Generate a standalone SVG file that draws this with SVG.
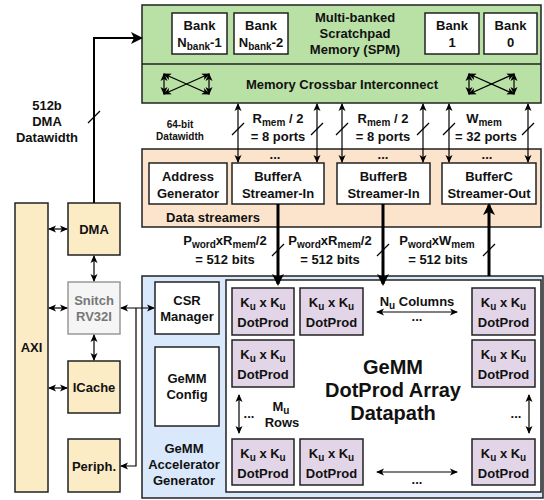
<svg xmlns="http://www.w3.org/2000/svg" width="544" height="500" viewBox="0 0 544 500">
<style>
text{font-family:"Liberation Sans",Arial,sans-serif;font-weight:bold;fill:#111;text-anchor:middle}
.t12{font-size:13px}
.t13{font-size:13px}
.box{stroke:#222;stroke-width:1.5}
.w{fill:#fff}
.cell{fill:#e1d5e7}
.ln{stroke:#000;stroke-width:1.2;fill:none}
.thk{stroke:#000;stroke-width:3;fill:none}
.sl{stroke:#000;stroke-width:1.2}
</style>
<defs>
<marker id="ah" markerWidth="8" markerHeight="8" refX="7" refY="4" orient="auto-start-reverse" markerUnits="userSpaceOnUse">
<path d="M0,0.5 L8,4 L0,7.5 L2,4 z" fill="#000"/>
</marker>
<marker id="ahb" markerWidth="12" markerHeight="12" refX="10" refY="6" orient="auto-start-reverse" markerUnits="userSpaceOnUse">
<path d="M0,0 L12,6 L0,12 L3,6 z" fill="#000"/>
</marker>
</defs>

<g id="spm">
<rect class="box" x="142" y="5" width="399" height="98" fill="#b9e0a5"/>
<line class="box" x1="142" y1="64" x2="541" y2="64"/>
<text class="t12" x="355" y="22">Multi-banked</text>
<text class="t12" x="355" y="38">Scratchpad</text>
<text class="t12" x="355" y="54">Memory (SPM)</text>
</g>
<g id="bank-n1"><rect class="box w" x="172" y="13" width="55" height="41"/><text class="t12" x="199.5" y="30">Bank</text><text class="t12" x="199.5" y="47">N<tspan font-size="10" dy="3">bank</tspan><tspan dy="-3">-1</tspan></text></g>
<g id="bank-n2"><rect class="box w" x="234" y="13" width="54" height="41"/><text class="t12" x="261" y="30">Bank</text><text class="t12" x="261" y="47">N<tspan font-size="10" dy="3">bank</tspan><tspan dy="-3">-2</tspan></text></g>
<g id="bank-1"><rect class="box w" x="425" y="13" width="54" height="41"/><text class="t12" x="452" y="30">Bank</text><text class="t12" x="452" y="47">1</text></g>
<g id="bank-0"><rect class="box w" x="484" y="13" width="53" height="41"/><text class="t12" x="510.5" y="30">Bank</text><text class="t12" x="510.5" y="47">0</text></g>
<g id="crossbar">
<text class="t12" x="342" y="89">Memory Crossbar Interconnect</text>
<g class="ln" marker-start="url(#ah)" marker-end="url(#ah)">
<line x1="164" y1="74" x2="164" y2="94"/><line x1="209" y1="74" x2="209" y2="94"/>
<line x1="164" y1="74" x2="209" y2="94"/><line x1="209" y1="74" x2="164" y2="94"/>
<line x1="469" y1="74" x2="469" y2="94"/><line x1="514" y1="74" x2="514" y2="94"/>
<line x1="469" y1="74" x2="514" y2="94"/><line x1="514" y1="74" x2="469" y2="94"/>
</g>
</g>

<g id="streamers">
<rect class="box" x="142" y="149" width="399" height="78" fill="#fce4cc"/>
<text class="t12" x="213" y="222">Data streamers</text>
<text class="t12" x="275" y="159">...</text>
<text class="t12" x="383" y="159">...</text>
<text class="t12" x="487" y="159">...</text>
</g>
<g id="addrgen"><rect class="box w" x="149" y="163" width="78" height="41"/><text class="t13" x="188" y="181">Address</text><text class="t13" x="188" y="198">Generator</text></g>
<g id="bufferA"><rect class="box w" x="232" y="163" width="92" height="41"/><text class="t13" x="278" y="181">BufferA</text><text class="t13" x="278" y="198">Streamer-In</text></g>
<g id="bufferB"><rect class="box w" x="337" y="163" width="93" height="41"/><text class="t13" x="383.5" y="181">BufferB</text><text class="t13" x="383.5" y="198">Streamer-In</text></g>
<g id="bufferC"><rect class="box w" x="442" y="163" width="94" height="41"/><text class="t13" x="489" y="181">BufferC</text><text class="t13" x="489" y="198">Streamer-Out</text></g>

<g id="axi"><rect class="box" x="15" y="203" width="33" height="289" fill="#fbecc6"/><text class="t13" x="31.5" y="352">AXI</text></g>
<g id="dma"><rect class="box" x="68" y="203" width="52" height="52" fill="#fbecc6"/><text class="t13" x="94" y="234">DMA</text></g>
<g id="snitch"><rect x="68" y="282" width="52" height="52" fill="#f5f5f5" stroke="#999" stroke-width="1.5"/><text class="t13" x="94" y="305" style="fill:#777">Snitch</text><text class="t13" x="94" y="321" style="fill:#777">RV32I</text></g>
<g id="icache"><rect class="box" x="68" y="361" width="52" height="52" fill="#fbecc6"/><text class="t13" x="94" y="392">ICache</text></g>
<g id="periph"><rect class="box" x="68" y="439" width="52" height="53" fill="#fbecc6"/><text class="t13" x="94" y="471">Periph.</text></g>

<g id="gemm">
<rect class="box" x="142" y="276" width="401" height="222" fill="#dae8fc"/>
<text class="t13" x="184" y="453">GeMM</text>
<text class="t13" x="184" y="469">Accelerator</text>
<text class="t13" x="184" y="485">Generator</text>
</g>
<g id="csr"><rect class="box w" x="155" y="282" width="64" height="52"/><text class="t13" x="187" y="305">CSR</text><text class="t13" x="187" y="321">Manager</text></g>
<g id="config"><rect class="box w" x="155" y="347" width="64" height="79"/><text class="t13" x="187" y="383">GeMM</text><text class="t13" x="187" y="399">Config</text></g>
<g id="datapath">
<rect class="box w" x="226" y="280" width="315" height="212"/>
<text x="393" y="374" font-size="20">GeMM</text>
<text x="393" y="397" font-size="20">DotProd Array</text>
<text x="393" y="420" font-size="20">Datapath</text>
<text class="t12" x="417" y="306">N<tspan font-size="10" dy="3">u</tspan><tspan dy="-3"> Columns</tspan></text>
<text class="t12" x="417" y="321">...</text>
<text class="t12" x="417" y="484">...</text>
<text class="t12" x="281" y="411">M<tspan font-size="10" dy="3">u</tspan></text>
<text class="t12" x="282" y="427">Rows</text>
<text class="t12" x="249" y="418">...</text>
<text class="t12" x="516" y="418">...</text>
</g>
<g id="dp-1-1"><rect class="box cell" x="232" y="288" width="62" height="47"/><text class="t12" x="263" y="307">K<tspan font-size="10" dy="3">u</tspan><tspan dy="-3"> x K</tspan><tspan font-size="10" dy="3">u</tspan></text><text class="t12" x="263" y="327">DotProd</text></g>
<g id="dp-1-2"><rect class="box cell" x="300" y="288" width="63" height="47"/><text class="t12" x="331.5" y="307">K<tspan font-size="10" dy="3">u</tspan><tspan dy="-3"> x K</tspan><tspan font-size="10" dy="3">u</tspan></text><text class="t12" x="331.5" y="327">DotProd</text></g>
<g id="dp-1-n"><rect class="box cell" x="472" y="288" width="63" height="47"/><text class="t12" x="503.5" y="307">K<tspan font-size="10" dy="3">u</tspan><tspan dy="-3"> x K</tspan><tspan font-size="10" dy="3">u</tspan></text><text class="t12" x="503.5" y="327">DotProd</text></g>
<g id="dp-2-1"><rect class="box cell" x="232" y="340" width="62" height="47"/><text class="t12" x="263" y="359">K<tspan font-size="10" dy="3">u</tspan><tspan dy="-3"> x K</tspan><tspan font-size="10" dy="3">u</tspan></text><text class="t12" x="263" y="379">DotProd</text></g>
<g id="dp-2-n"><rect class="box cell" x="472" y="340" width="63" height="47"/><text class="t12" x="503.5" y="359">K<tspan font-size="10" dy="3">u</tspan><tspan dy="-3"> x K</tspan><tspan font-size="10" dy="3">u</tspan></text><text class="t12" x="503.5" y="379">DotProd</text></g>
<g id="dp-m-1"><rect class="box cell" x="232" y="439" width="62" height="46"/><text class="t12" x="263" y="458">K<tspan font-size="10" dy="3">u</tspan><tspan dy="-3"> x K</tspan><tspan font-size="10" dy="3">u</tspan></text><text class="t12" x="263" y="478">DotProd</text></g>
<g id="dp-m-2"><rect class="box cell" x="300" y="439" width="63" height="46"/><text class="t12" x="331.5" y="458">K<tspan font-size="10" dy="3">u</tspan><tspan dy="-3"> x K</tspan><tspan font-size="10" dy="3">u</tspan></text><text class="t12" x="331.5" y="478">DotProd</text></g>
<g id="dp-m-n"><rect class="box cell" x="472" y="439" width="63" height="46"/><text class="t12" x="503.5" y="458">K<tspan font-size="10" dy="3">u</tspan><tspan dy="-3"> x K</tspan><tspan font-size="10" dy="3">u</tspan></text><text class="t12" x="503.5" y="478">DotProd</text></g>

<g id="connectors">
<g class="ln" marker-start="url(#ah)" marker-end="url(#ah)">
<line x1="238" y1="104" x2="238" y2="162"/><line x1="317" y1="104" x2="317" y2="162"/>
<line x1="342" y1="104" x2="342" y2="162"/><line x1="423" y1="104" x2="423" y2="162"/>
<line x1="449" y1="104" x2="449" y2="162"/><line x1="528" y1="104" x2="528" y2="162"/>
<line x1="49" y1="229" x2="67" y2="229"/><line x1="49" y1="308" x2="67" y2="308"/><line x1="49" y1="388" x2="67" y2="388"/>
<line x1="94" y1="256" x2="94" y2="281"/><line x1="94" y1="335" x2="94" y2="360"/>
<line x1="121" y1="308" x2="154" y2="308"/>
<line x1="377" y1="312" x2="457" y2="312"/><line x1="377" y1="472" x2="457" y2="472"/>
<line x1="239" y1="395" x2="239" y2="433"/><line x1="529" y1="395" x2="529" y2="433"/>
</g>
<polyline class="ln" points="136,308 136,466 121,466" marker-end="url(#ah)"/>
<polyline points="94,203 94,38 141,38" fill="none" stroke="#000" stroke-width="2" marker-end="url(#ahb)"/>
<line class="sl" x1="88" y1="123" x2="100" y2="111" stroke-width="2"/>
<g class="sl">
<line x1="232" y1="135" x2="244" y2="123"/><line x1="311" y1="135" x2="323" y2="123"/>
<line x1="336" y1="135" x2="348" y2="123"/><line x1="417" y1="135" x2="429" y2="123"/>
<line x1="443" y1="135" x2="455" y2="123"/><line x1="522" y1="135" x2="534" y2="123"/>
<line x1="272" y1="256" x2="284" y2="244"/><line x1="377" y1="256" x2="389" y2="244"/><line x1="483" y1="256" x2="495" y2="244"/>
</g>
<line class="thk" x1="278" y1="204" x2="278" y2="284" marker-end="url(#ahb)"/>
<line class="thk" x1="383" y1="204" x2="383" y2="284" marker-end="url(#ahb)"/>
<line class="thk" x1="489" y1="276" x2="489" y2="205" marker-end="url(#ahb)"/>
</g>

<g id="labels">
<text class="t13" x="47" y="110">512b</text>
<text class="t13" x="47" y="126">DMA</text>
<text class="t13" x="47" y="142">Datawidth</text>
<text x="180" y="128" font-size="10">64-bit</text>
<text x="180" y="140" font-size="10">Datawidth</text>
<text class="t13" x="278" y="123">R<tspan font-size="10" dy="3">mem</tspan><tspan dy="-3"> / 2</tspan></text>
<text class="t13" x="278" y="141">= 8 ports</text>
<text class="t13" x="383" y="123">R<tspan font-size="10" dy="3">mem</tspan><tspan dy="-3"> / 2</tspan></text>
<text class="t13" x="383" y="141">= 8 ports</text>
<text class="t13" x="484" y="123">W<tspan font-size="10" dy="3">mem</tspan></text>
<text class="t13" x="486" y="141">= 32 ports</text>
<text class="t13" x="225" y="245">P<tspan font-size="10" dy="3">word</tspan><tspan dy="-3">xR</tspan><tspan font-size="10" dy="3">mem</tspan><tspan dy="-3">/2</tspan></text>
<text class="t13" x="225" y="264">= 512 bits</text>
<text class="t13" x="330" y="245">P<tspan font-size="10" dy="3">word</tspan><tspan dy="-3">xR</tspan><tspan font-size="10" dy="3">mem</tspan><tspan dy="-3">/2</tspan></text>
<text class="t13" x="330" y="264">= 512 bits</text>
<text class="t13" x="437" y="245">P<tspan font-size="10" dy="3">word</tspan><tspan dy="-3">xW</tspan><tspan font-size="10" dy="3">mem</tspan></text>
<text class="t13" x="438" y="264">= 512 bits</text>
</g>
</svg>
